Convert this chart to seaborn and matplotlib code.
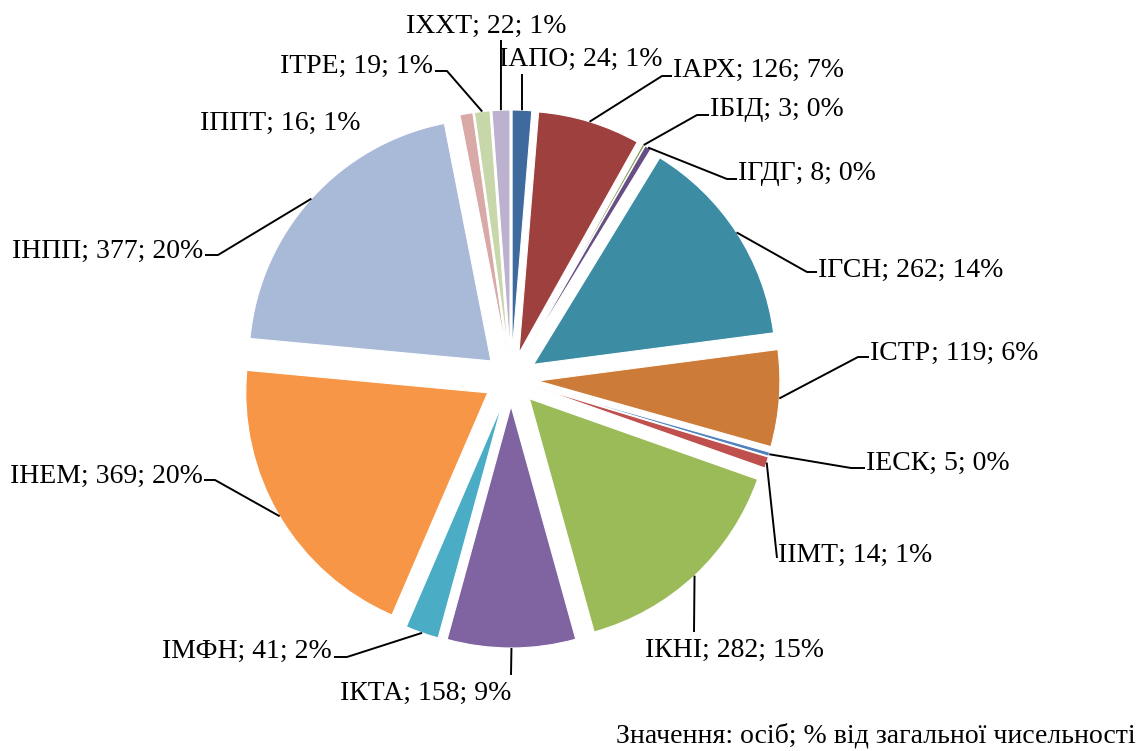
import matplotlib
matplotlib.use("Agg")
import matplotlib.pyplot as plt
import seaborn as sns
import math

# data, clockwise from 12 o'clock
institutes = ["ІАПО", "ІАРХ", "ІБІД", "ІГДГ", "ІГСН", "ІСТР", "ІЕСК", "ІІМТ",
              "ІКНІ", "ІКТА", "ІМФН", "ІНЕМ", "ІНПП", "ІППТ", "ІТРЕ", "ІХХТ"]
persons = [24, 126, 3, 8, 262, 119, 5, 14, 282, 158, 41, 369, 377, 16, 19, 22]
note = "Значення: осіб; % від загальної чисельності"

colors = ["#3E6A9E", "#9E413E", "#7F9A48", "#674F85", "#3C8CA4", "#CC7B38",
          "#4F81BD", "#C0504D", "#9BBB59", "#8064A2", "#4BACC6", "#F79646",
          "#A9B9D8", "#D9A9A8", "#C7D7AA", "#BCB1CE"]

# label layout in pixels (y from top): text x, baseline y, ha, leader points after the arc
layout = {
    "ІАПО": (499, 66, "left", [(522, 74)]),
    "ІАРХ": (673, 77, "left", [(662, 76), (672, 76)]),
    "ІБІД": (710, 116, "left", [(697, 115), (709, 115)]),
    "ІГДГ": (738, 180, "left", [(727, 179), (737, 179)]),
    "ІГСН": (818, 277, "left", [(807, 272), (817, 272)]),
    "ІСТР": (870, 360, "left", [(858, 357), (869, 357)]),
    "ІЕСК": (866, 470, "left", [(851, 468), (865, 468)]),
    "ІІМТ": (778, 562, "left", [(777, 558)]),
    "ІКНІ": (645, 657, "left", [(694, 632)]),
    "ІКТА": (340, 700, "left", [(511, 675)]),
    "ІМФН": (332, 658, "right", [(347, 657), (334, 657)]),
    "ІНЕМ": (203, 483, "right", [(215, 480), (204, 480)]),
    "ІНПП": (203, 258, "right", [(218, 255), (205, 255)]),
    "ІППТ": (200, 130, "left", []),
    "ІТРЕ": (280, 73, "left", [(447, 71), (435, 71)]),
    "ІХХТ": (406, 33, "left", [(501, 40)]),
}

sns.set_style("white")
plt.rcParams["font.family"] = ["Liberation Serif", "DejaVu Serif"]

W, H = 1142, 751
fig = plt.figure(figsize=(W / 100, H / 100), dpi=100)
ax = fig.add_axes([0, 0, 1, 1])

total = sum(persons)
wedges, _ = ax.pie(persons, colors=sns.color_palette(colors), startangle=90,
                   counterclock=False, center=(511, H - 379), radius=242,
                   explode=[27] * len(persons),
                   wedgeprops=dict(linewidth=0.8, edgecolor="white"))
ax.set_xlim(0, W)
ax.set_ylim(0, H)
ax.set_axis_off()

for w, name, val in zip(wedges, institutes, persons):
    tx, ty, ha, pts = layout[name]
    mid = math.radians((w.theta1 + w.theta2) / 2)
    ax0 = w.center[0] + w.r * math.cos(mid)
    ay0 = w.center[1] + w.r * math.sin(mid)
    if pts:
        xs = [ax0] + [p[0] for p in pts]
        ys = [ay0] + [H - p[1] for p in pts]
        ax.plot(xs, ys, color="black", lw=1.4, solid_capstyle="butt")
    pct = round(val / total * 100)
    ax.text(tx, H - ty, f"{name}; {val}; {pct}%", ha=ha, va="baseline",
            fontsize=20, color="black")

ax.text(1136, H - 742, note, ha="right", va="baseline", fontsize=20, color="black")

fig.savefig("out.png", dpi=100)
